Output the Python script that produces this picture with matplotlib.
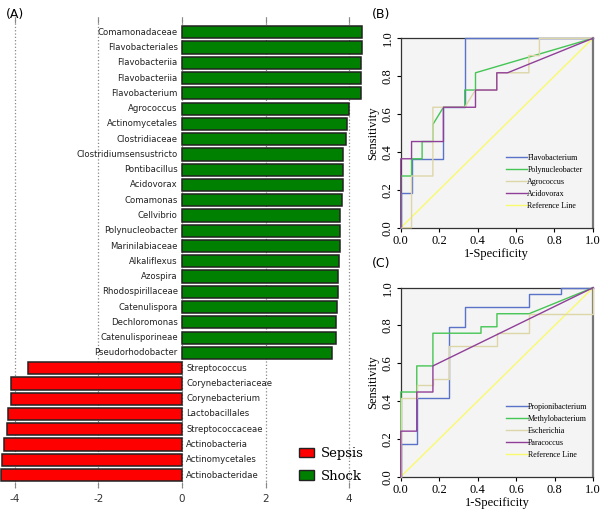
import matplotlib.pyplot as plt
from matplotlib.patches import Patch

plt.rcParams["axes.unicode_minus"] = False

# ---- panel A: LDA-style scores ----
taxa = [
    "Comamonadaceae", "Flavobacteriales", "Flavobacteriia", "Flavobacteriia",
    "Flavobacterium", "Agrococcus", "Actinomycetales", "Clostridiaceae",
    "Clostridiumsensustricto", "Pontibacillus", "Acidovorax", "Comamonas",
    "Cellvibrio", "Polynucleobacter", "Marinilabiaceae", "Alkaliflexus",
    "Azospira", "Rhodospirillaceae", "Catenulispora", "Dechloromonas",
    "Catenulisporineae", "Pseudorhodobacter", "Streptococcus",
    "Corynebacteriaceae", "Corynebacterium", "Lactobacillales",
    "Streptococcaceae", "Actinobacteria", "Actinomycetales", "Actinobacteridae",
]
scores = [
    4.32, 4.30, 4.29, 4.29, 4.29, 3.99, 3.96, 3.92, 3.86, 3.86, 3.86, 3.83,
    3.79, 3.79, 3.77, 3.76, 3.74, 3.73, 3.72, 3.69, 3.68, 3.60,
    -3.68, -4.09, -4.09, -4.17, -4.19, -4.27, -4.31, -4.32,
]
groups = ["Sepsis", "Shock"]
group_colors = ["#ff0000", "#008000"]
a_ticks = [-4, -2, 0, 2, 4]

# ---- panel B: ROC curves (fpr, tpr) ----
b_names = ["Flavobacterium", "Polynucleobacter", "Agrococcus", "Acidovorax"]
b_fpr = [
    [0, 0, 0.056, 0.056, 0.222, 0.222, 0.333, 0.333, 1],
    [0, 0, 0.056, 0.056, 0.111, 0.111, 0.167, 0.167, 0.222, 0.333, 0.333, 0.389, 0.389, 1],
    [0, 0.056, 0.056, 0.167, 0.167, 0.333, 0.389, 0.5, 0.5, 0.667, 0.667, 0.722, 0.722, 1],
    [0, 0, 0.056, 0.056, 0.222, 0.222, 0.389, 0.389, 0.5, 0.5, 0.556, 1],
]
b_tpr = [
    [0, 0.182, 0.182, 0.364, 0.364, 0.636, 0.636, 1, 1],
    [0, 0.273, 0.273, 0.364, 0.364, 0.455, 0.455, 0.545, 0.636, 0.636, 0.727, 0.727, 0.818, 1],
    [0, 0, 0.273, 0.273, 0.636, 0.636, 0.727, 0.727, 0.818, 0.818, 0.909, 0.909, 1, 1],
    [0, 0.364, 0.364, 0.455, 0.455, 0.636, 0.636, 0.727, 0.727, 0.818, 0.818, 1],
]

# ---- panel C: ROC curves (fpr, tpr) ----
c_names = ["Propionibacterium", "Methylobacterium", "Escherichia", "Paracoccus"]
c_fpr = [
    [0, 0, 0.083, 0.083, 0.25, 0.25, 0.333, 0.333, 0.667, 0.667, 0.833, 0.833, 1],
    [0, 0, 0.083, 0.083, 0.167, 0.167, 0.417, 0.417, 0.5, 0.5, 0.667, 1],
    [0, 0, 0.083, 0.083, 0.167, 0.167, 0.25, 0.25, 0.5, 0.5, 0.667, 0.667, 1, 1],
    [0, 0, 0.083, 0.083, 0.167, 0.167, 1],
]
c_tpr = [
    [0, 0.172, 0.172, 0.414, 0.414, 0.793, 0.793, 0.897, 0.897, 0.966, 0.966, 1, 1],
    [0, 0.448, 0.448, 0.586, 0.586, 0.759, 0.759, 0.793, 0.793, 0.862, 0.862, 1],
    [0, 0.414, 0.414, 0.483, 0.483, 0.517, 0.517, 0.69, 0.69, 0.759, 0.759, 0.862, 0.862, 1],
    [0, 0.241, 0.241, 0.448, 0.448, 0.586, 1],
]
roc_colors = ["#5a72c8", "#45c554", "#ddd6a8", "#903f98"]
ref_color = "#fafa6e"
roc_ticks = [0.0, 0.2, 0.4, 0.6, 0.8, 1.0]

fig = plt.figure(figsize=(6, 5.11), dpi=100)

# ---------------- (A) ----------------
ax = fig.add_axes([0.0, 0.045, 0.6167, 0.9217])
pos = list(range(len(taxa)))
cols = [group_colors[1] if s > 0 else group_colors[0] for s in scores]
ax.barh(pos, scores, height=0.8, color=cols, edgecolor="#222222", linewidth=1.1, zorder=3)
for p, name, s in zip(pos, taxa, scores):
    if s > 0:
        ax.text(-0.1, p, name, ha="right", va="center", fontsize=6.1, color="#222222", zorder=4)
    else:
        ax.text(0.1, p, name, ha="left", va="center", fontsize=6.1, color="#222222", zorder=4)
ax.set_xlim(-4.354, 4.5)
ax.set_ylim(29.85, -1.0)
ax.set_yticks([])
ax.set_xticks(a_ticks)
ax.set_xticklabels([str(t) for t in a_ticks], fontsize=7.5, color="#333333")
ax.tick_params(axis="x", direction="in", length=4, color="#888888", top=True, pad=4)
ax.grid(axis="x", linestyle=":", color="#888888", linewidth=0.9, zorder=0)
for sp in ax.spines.values():
    sp.set_visible(False)
handles = [Patch(facecolor=c, edgecolor="#222222", label=g) for g, c in zip(groups, group_colors)]
ax.legend(handles=handles, loc="lower left", bbox_to_anchor=(0.775, -0.014), frameon=False,
          prop={"family": "DejaVu Serif", "size": 9.5}, handlelength=1.2, handleheight=0.7,
          labelspacing=0.7, handletextpad=0.5)
fig.text(0.01, 0.985, "(A)", fontsize=9, va="top", ha="left")


def roc_panel(rect, names, fprs, tprs, label):
    a = fig.add_axes(rect)
    a.set_facecolor("#f4f4f4")
    for name, fx, ty, c in zip(names, fprs, tprs, roc_colors):
        a.plot(fx, ty, color=c, linewidth=1.0, label=name, clip_on=False, zorder=3)
    a.plot([0, 1], [0, 1], color=ref_color, linewidth=1.0, label="Reference Line", zorder=2)
    a.set_xlim(0, 1)
    a.set_ylim(0, 1)
    a.set_xticks(roc_ticks)
    a.set_yticks(roc_ticks)
    a.set_xticklabels([f"{t:.1f}" for t in roc_ticks], family="Liberation Serif", fontsize=9)
    a.set_yticklabels([f"{t:.1f}" for t in roc_ticks], family="Liberation Serif", fontsize=9,
                      rotation=90, va="center")
    a.tick_params(direction="out", length=3, width=0.8, pad=2)
    a.set_xlabel("1-Specificity", family="Liberation Serif", fontsize=9, labelpad=1)
    a.set_ylabel("Sensitivity", family="Liberation Serif", fontsize=9, labelpad=2)
    for sp in ["top", "left", "bottom"]:
        a.spines[sp].set_color("#333333")
        a.spines[sp].set_linewidth(0.9)
    a.spines["right"].set_color("#777777")
    a.spines["right"].set_linewidth(1.6)
    a.legend(loc="lower left", bbox_to_anchor=(0.525, 0.072), frameon=False,
             prop={"family": "Liberation Serif", "size": 5.8}, handlelength=2.7,
             handletextpad=0.0, labelspacing=0.5, borderpad=0)
    fig.text(rect[0] - 0.048, rect[1] + rect[3] + 0.06, label, fontsize=9, va="top", ha="left")
    return a


roc_panel([0.668, 0.5544, 0.32, 0.3706], b_names, b_fpr, b_tpr, "(B)")
roc_panel([0.668, 0.0671, 0.3205, 0.370], c_names, c_fpr, c_tpr, "(C)")

fig.savefig("out.png", dpi=100)
